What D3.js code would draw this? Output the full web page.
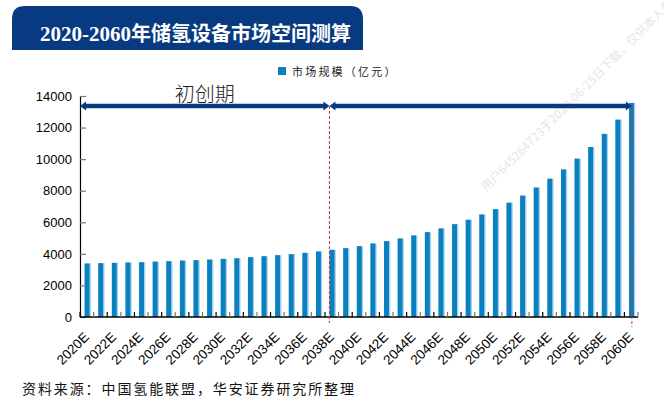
<!DOCTYPE html>
<html>
<head>
<meta charset="utf-8">
<script src="https://cdn.jsdelivr.net/npm/d3@7/dist/d3.min.js"></script>
<style>
  body { margin: 0; background: #fff; }
  svg { display: block; }
</style>
</head>
<body>
<div id="chart"></div>
<script>
// years and market size (亿元)
var years = d3.range(2020, 2061).map(function (y) { return y + "E"; });
var values = [3390, 3410, 3430, 3450, 3470, 3510, 3535, 3575, 3600, 3640,
              3680, 3725, 3790, 3850, 3915, 3980, 4065, 4150, 4255, 4360,
              4485, 4655, 4805, 4975, 5165, 5375, 5610, 5880, 6160, 6495,
              6835, 7240, 7690, 8200, 8760, 9350, 10030, 10770, 11600, 12500,
              13560];
var yTicks = [0, 2000, 4000, 6000, 8000, 10000, 12000, 14000];
var phaseSplit = "2038E", phaseEnd = "2060E";
var titleText = "2020-2060年储氢设备市场空间测算";
var legendText = "市场规模（亿元）";
var phaseLabel = "初创期";
var sourceText = "资料来源：中国氢能联盟，华安证券研究所整理";
var watermark = "用户645264723于2022-06-25日下载，仅供本人参考";

var W = 664, H = 403;
// plot box (window.top is read-only, so use prefixed names)
var pLeft = 80, pRight = 638, pTop = 96, pBottom = 317;
var barColor = "#0b80c0", navy = "#073a80";
var cjk = "'Noto Sans CJK SC', sans-serif";

var svg = d3.select("#chart").append("svg")
  .attr("width", W)
  .attr("height", H);

// title banner
var bx = 12, by = 6, bw = 351, bh = 44, r = 13;
svg.append("path")
  .attr("d", "M" + bx + "," + (by + bh) + " V" + (by + r) +
    " Q" + bx + "," + by + " " + (bx + r) + "," + by +
    " H" + (bx + bw - r) +
    " Q" + (bx + bw) + "," + by + " " + (bx + bw) + "," + (by + r) +
    " V" + (by + bh) + " Z")
  .attr("fill", navy);
var title = svg.append("text")
  .attr("x", 40)
  .attr("y", 41)
  .style("font-weight", "bold")
  .style("font-size", "20px")
  .style("fill", "#fff");
// digits in a narrow serif, the rest in CJK
var m = titleText.match(/^([0-9\-]+)(.*)$/);
title.append("tspan")
  .style("font-family", "'Liberation Serif', 'DejaVu Serif', serif")
  .style("font-size", "21px")
  .text(m[1]);
title.append("tspan")
  .style("font-family", cjk)
  .text(m[2]);

// watermark
svg.append("text")
  .attr("transform", "translate(486,192) rotate(-45)")
  .style("font-family", cjk)
  .style("font-size", "12px")
  .style("fill", "#e6e6e6")
  .text(watermark);

var x = d3.scaleBand().domain(years).range([pLeft, pRight]).padding(0);
var y = d3.scaleLinear().domain([0, 14000]).range([pBottom, pTop]);
var bwid = x.bandwidth();

// bars: dark body with light right edge
var g = svg.append("g");
g.selectAll("rect.light").data(values).enter().append("rect")
  .attr("class", "light")
  .attr("x", function (d, i) { return x(years[i]) + bwid * 0.34; })
  .attr("y", function (d) { return y(d); })
  .attr("width", bwid * 0.46)
  .attr("height", function (d) { return pBottom - y(d); })
  .attr("fill", "#a8d0ea");
g.selectAll("rect.bar").data(values).enter().append("rect")
  .attr("class", "bar")
  .attr("x", function (d, i) { return x(years[i]) + bwid * 0.34; })
  .attr("y", function (d) { return y(d); })
  .attr("width", bwid * 0.36)
  .attr("height", function (d) { return pBottom - y(d); })
  .attr("fill", barColor);

// y axis
var yAxis = svg.append("g")
  .attr("transform", "translate(" + pLeft + ",0)")
  .call(d3.axisLeft(y).tickValues(yTicks).tickFormat(d3.format("d"))
    .tickSize(0).tickPadding(8));
yAxis.select(".domain").attr("stroke", "#000").attr("stroke-width", 1.2);
yAxis.selectAll("text")
  .style("font-family", "Arial, 'Liberation Sans', sans-serif")
  .style("font-size", "13px")
  .style("fill", "#000");
yAxis.selectAll(".tick").append("line")
  .attr("x1", 0).attr("x2", 6)
  .attr("stroke", "#777").attr("stroke-width", 1.2);

// x axis
var xAxis = svg.append("g")
  .attr("transform", "translate(0," + pBottom + ")");
xAxis.append("line")
  .attr("x1", pLeft).attr("x2", pRight)
  .attr("stroke", "#000").attr("stroke-width", 1.5);
var bounds = d3.range(0, years.length + 1);
xAxis.selectAll("line.tk").data(bounds).enter().append("line")
  .attr("class", "tk")
  .attr("x1", function (i) { return pLeft + i * bwid; })
  .attr("x2", function (i) { return pLeft + i * bwid; })
  .attr("y1", 0).attr("y2", -5)
  .attr("stroke", function (i) { return i % 2 ? "#777" : "#000"; })
  .attr("stroke-width", 1.2);
xAxis.selectAll("text").data(years.filter(function (d, i) { return i % 2 === 0; }))
  .enter().append("text")
  .attr("transform", function (d) {
    return "translate(" + (x(d) + bwid / 2 + 3) + ",21) rotate(-45)";
  })
  .attr("text-anchor", "end")
  .style("font-family", "Arial, 'Liberation Sans', sans-serif")
  .style("font-size", "13.5px")
  .style("fill", "#000")
  .text(function (d) { return d; });

// phase dashed lines
var xs = x(phaseSplit) + bwid * 0.33;
var xe = x(phaseEnd) + bwid * 0.55;
var arrowY = 106;
[[xs, 6], [xe, 10]].forEach(function (p) {
  svg.append("line")
    .attr("x1", p[0]).attr("x2", p[0])
    .attr("y1", arrowY).attr("y2", pBottom + p[1])
    .attr("stroke", "#c8323a").attr("stroke-width", 1)
    .attr("stroke-dasharray", "3,2");
});

// double arrows
function arrow(x0, x1) {
  var hl = 6, hh = 4.5;
  svg.append("line")
    .attr("x1", x0 + hl - 1).attr("x2", x1 - hl + 1)
    .attr("y1", arrowY).attr("y2", arrowY)
    .attr("stroke", navy).attr("stroke-width", 4.5);
  svg.append("path")
    .attr("d", "M" + x0 + "," + arrowY + " L" + (x0 + hl) + "," + (arrowY - hh) +
      " L" + (x0 + hl) + "," + (arrowY + hh) + " Z")
    .attr("fill", navy);
  svg.append("path")
    .attr("d", "M" + x1 + "," + arrowY + " L" + (x1 - hl) + "," + (arrowY - hh) +
      " L" + (x1 - hl) + "," + (arrowY + hh) + " Z")
    .attr("fill", navy);
}
arrow(pLeft, xs);
arrow(xs, xe);

svg.append("text")
  .attr("x", (pLeft + xs) / 2)
  .attr("y", 102)
  .attr("text-anchor", "middle")
  .style("font-family", cjk)
  .style("font-size", "20px")
  .style("font-weight", "300")
  .style("fill", "#222")
  .text(phaseLabel);

// legend
svg.append("rect")
  .attr("x", 278).attr("y", 67)
  .attr("width", 8).attr("height", 8)
  .attr("fill", barColor);
svg.append("text")
  .attr("x", 292).attr("y", 76)
  .style("font-family", cjk)
  .style("font-size", "11px")
  .style("letter-spacing", "2.2px")
  .style("fill", "#222")
  .text(legendText);

// source
svg.append("text")
  .attr("x", 22).attr("y", 394)
  .style("font-family", cjk)
  .style("font-size", "14px")
  .style("letter-spacing", "1.9px")
  .style("fill", "#111")
  .text(sourceText);
</script>
</body>
</html>
